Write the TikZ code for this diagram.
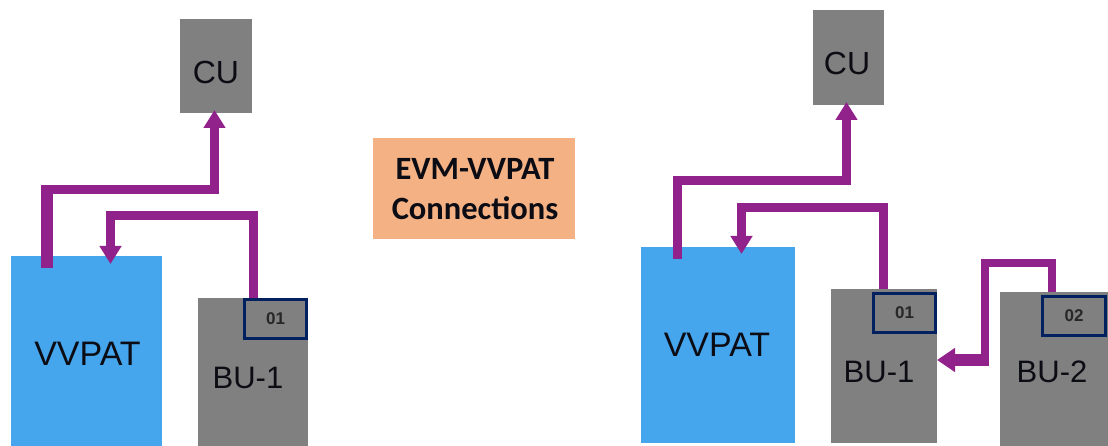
\documentclass[tikz,border=0pt]{standalone}
\usepackage{fontspec}
\setmainfont{Liberation Sans}
\newfontfamily\calib{Carlito}
\usetikzlibrary{arrows.meta,positioning}
\definecolor{boxgrey}{HTML}{808080}
\definecolor{vblue}{HTML}{45A5ED}
\definecolor{wire}{HTML}{92228B}
\definecolor{badge}{HTML}{002060}
\definecolor{orangebox}{HTML}{F4B183}
\definecolor{txt}{HTML}{0C0C14}
\tikzset{
  x=1pt,y=-1pt,
  box/.style={draw=none,inner sep=0pt,outer sep=0pt,anchor=north west},
  greybox/.style={box,fill=boxgrey},
  bluebox/.style={box,fill=vblue},
  badgebox/.style={box,draw=badge,line width=3pt,fill=none,font=\fontsize{17}{17}\selectfont\bfseries,text=black!70!boxgrey},
  sized/.style 2 args={minimum width=#1pt,minimum height=#2pt},
  lbl/.style={inner sep=0pt,font=\fontsize{31}{31}\selectfont,text=txt},
  lblwide/.style={inner sep=0pt,font=\fontsize{34}{34}\selectfont,text=txt},
  caplbl/.style={inner sep=0pt,font=\calib\bfseries\fontsize{32.5}{33}\selectfont,text=txt},
  wirethick/.style={draw=wire,line width=9pt,line join=miter},
  wirein/.style={wirethick,-{Triangle[width=21pt,length=18pt]}},
}
\begin{document}
\begin{tikzpicture}
\useasboundingbox (0,0) rectangle (1108,446);
% left group
\node[greybox,sized={72}{94}] (cuL) at (180,19) {};
\node[bluebox,sized={151}{190}] (vvL) at (11,256) {};
\node[greybox,sized={110}{148}] (buL) at (198,298) {};
\node[badgebox,sized={62}{39}] (badgeL) at (244.5,299.5) {01};
\node[lbl,font=\fontsize{32}{32}\selectfont] (cuLt) at (216,72) {CU};
\node[lblwide] (vvLt) at (87.5,354) {VVPAT};
\node[lbl] (buLt) at (248,378) {BU-1};
% right group
\node[greybox,sized={71}{95}] (cuR) at (813,10) {};
\node[bluebox,sized={154}{196}] (vvR) at (641,247) {};
\node[greybox,sized={106}{154}] (buR) at (831,289) {};
\node[greybox,sized={108}{154}] (buRb) at (1000,292) {};
\node[badgebox,sized={62}{39}] (badgeR) at (873.5,293.5) {01};
\node[badgebox,sized={63}{39}] (badgeRb) at (1042.5,296.5) {02};
\node[lbl,font=\fontsize{32}{32}\selectfont] (cuRt) at (847,63) {CU};
\node[lblwide] (vvRt) at (717,345) {VVPAT};
\node[lbl] (buRt) at (879,372) {BU-1};
\node[lbl] (buRbt) at (1052,372) {BU-2};
% centre caption
\node[box,fill=orangebox,sized={202}{101}] (cap) at (373,138) {};
\node[caplbl] (capa) at (475,169) {EVM-VVPAT};
\node[caplbl] (capb) at (475,208) {Connections};
% connectors left
\draw[wirethick] ([xshift=36pt,yshift=-12pt]vvL.north west) |- (214.5,189.5) -- ++(4.5,0);
\draw[wirein] (214.5,194) -- ([xshift=34.5pt,yshift=3pt]cuL.south west);
\draw[wirethick,line width=12pt] ([xshift=36pt,yshift=-12pt]vvL.north west) -- ++(0,-83);
\draw[wirein] ([xshift=55pt]buL.north west) |- (110.5,216) -- ([xshift=99.5pt,yshift=-8pt]vvL.north west);
% connectors right
\draw[wirein] ([xshift=36.5pt,yshift=-12pt]vvR.north west) |- (846.5,180.5) -- ([xshift=33.5pt,yshift=3pt]cuR.south west);
\draw[wirein] ([xshift=52pt]buR.north west) |- (741.5,207.5) -- ([xshift=100.5pt,yshift=-7pt]vvR.north west);
\coordinate (bend) at (984.5,366);
\draw[wirethick,line width=8pt] ([xshift=52pt]buRb.north west) |- (984.5,263.5) -- (bend);
\draw[wirein,line width=12pt,-{Triangle[width=23pt,length=18pt]}] (988.5,360) -- ([yshift=6pt]buR.east);
\end{tikzpicture}
\end{document}
